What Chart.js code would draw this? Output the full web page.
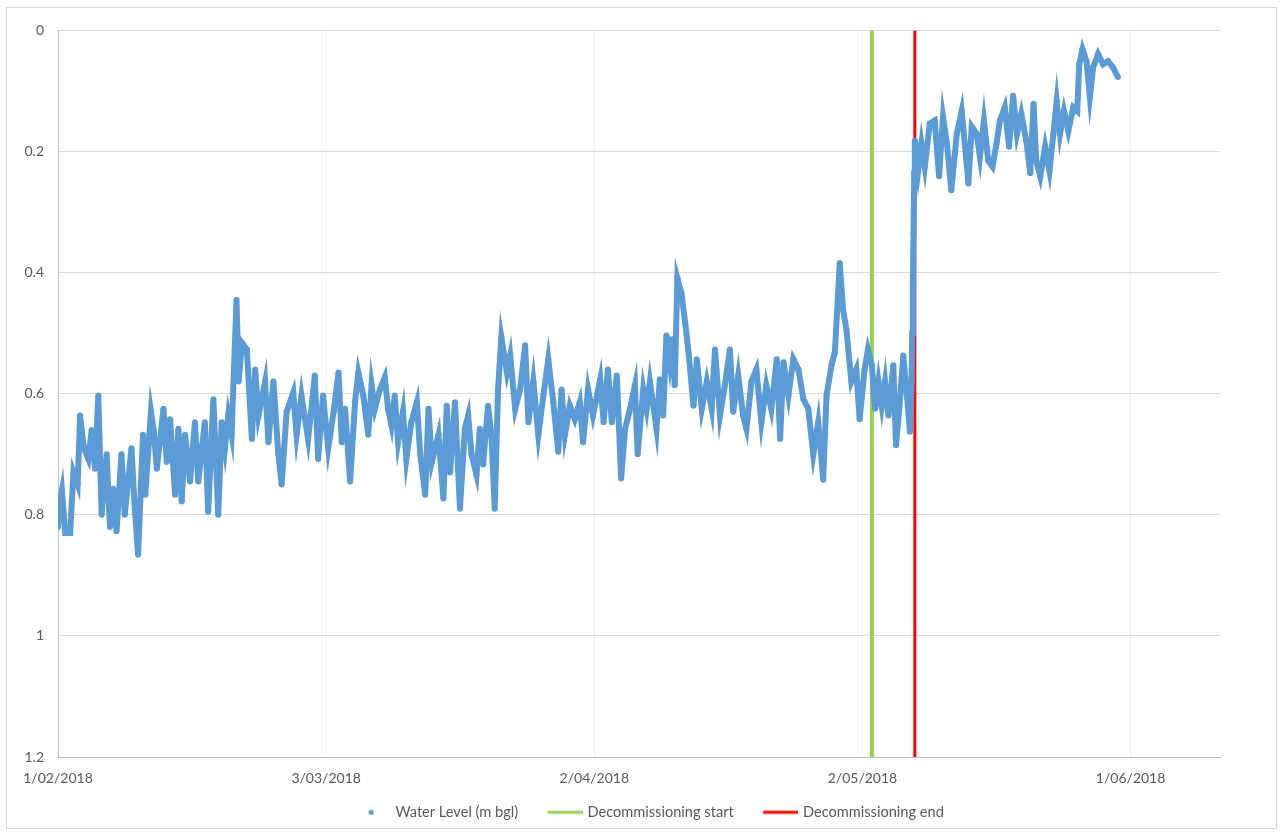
<!DOCTYPE html>
<html>
<head>
<meta charset="utf-8">
<script src="https://cdn.jsdelivr.net/npm/chart.js@4/dist/chart.umd.min.js"></script>
<style>
  body { margin: 0; background: #fff; }
  #box { position: absolute; left: 6px; top: 7px; width: 1269px; height: 820px; border: 1px solid #d9d9d9; }
</style>
</head>
<body>
<div id="box"><canvas id="levelChart" width="1269" height="820"></canvas></div>
<script>
// days counted from 1/02/2018, water level in m below ground
var days = [
  0, 0.2, 0.44, 0.8, 1.36, 1.73, 2.2, 2.47, 2.9, 3.4, 3.77, 4.14, 4.51, 4.88, 5.44, 5.81, 6.18, 6.55, 7.1, 7.47,
  8.22, 8.59, 8.96, 9.51, 9.77, 10.4, 10.7, 11.06, 11.8, 12.17, 12.54, 13.1, 13.47, 13.84, 14.21, 14.77, 15.32, 15.69, 16.43, 16.8,
  17.38, 17.93, 18.31, 18.68, 19.05, 19.42, 19.97, 20.21, 20.58, 21.13, 21.69, 22.06, 22.43, 23.17, 23.54, 24.1, 24.65, 25.02, 25.58, 26.32,
  26.69, 27.24, 27.98, 28.73, 29.1, 29.65, 30.23, 30.83, 31.38, 31.75, 32.12, 32.68, 33.23, 33.6, 34.16, 34.71, 35.08, 35.45, 36.01, 36.56,
  36.93, 37.3, 37.67, 38.05, 38.6, 38.97, 39.53, 40.15, 40.52, 41.08, 41.45, 41.82, 42.56, 43.12, 43.49, 43.86, 44.41, 44.97, 45.52, 45.89,
  46.26, 46.82, 47.19, 47.56, 48.11, 48.49, 48.86, 49.23, 49.6, 50.22, 50.59, 51.15, 51.7, 52.26, 52.63, 53.18, 53.74, 54.3, 54.85, 55.41,
  55.97, 56.34, 56.71, 57.26, 57.82, 58.37, 58.74, 59.3, 59.85, 60.66, 61.04, 61.52, 61.96, 62.52, 63.0, 63.44, 64.0, 64.55, 64.85, 65.48,
  65.85, 66.22, 66.96, 67.33, 67.7, 68.07, 68.44, 68.7, 69.0, 69.29, 69.74, 70.17, 70.54, 71.1, 71.47, 72.02, 72.58, 73.13, 73.5, 74.06,
  74.61, 75.17, 75.54, 76.1, 76.65, 77.02, 77.58, 78.13, 78.69, 79.24, 79.8, 80.42, 80.79, 81.17, 81.72, 82.27, 82.83, 83.39, 83.94, 84.5,
  85.05, 85.61, 85.98, 86.54, 86.91, 87.46, 87.83, 88.2, 88.76, 89.31, 89.68, 90.24, 90.61, 91.05, 91.42, 91.79, 92.16, 92.53, 92.9, 93.45,
  93.75, 94.12, 94.57, 94.94, 95.31, 95.49, 95.57, 95.64, 95.71, 95.79, 95.86, 96.23, 96.6, 96.97, 97.53, 98.08, 98.57, 99.01, 99.45, 99.94,
  100.55, 101.1, 101.59, 101.85, 102.22, 102.77, 103.14, 103.59, 104.07, 104.55, 105.0, 105.37, 105.92, 106.4, 106.85, 107.29, 107.77, 108.33, 108.77, 109.14,
  109.44, 109.89, 110.44, 110.92, 111.36, 111.73, 112.1, 112.55, 113.03, 113.58, 114.03, 114.25, 114.62, 115.07, 115.44, 115.81, 116.36, 116.92, 117.47, 118.03,
  118.58
];
var waterLevel = [
  0.82, 0.78, 0.76, 0.83, 0.83, 0.73, 0.75, 0.636, 0.69, 0.708, 0.66, 0.724, 0.603, 0.80, 0.70, 0.82, 0.757, 0.827, 0.70, 0.80,
  0.69, 0.79, 0.866, 0.668, 0.767, 0.63, 0.66, 0.724, 0.625, 0.713, 0.642, 0.767, 0.658, 0.778, 0.668, 0.745, 0.647, 0.745, 0.647, 0.795,
  0.609, 0.80, 0.647, 0.69, 0.636, 0.668, 0.445, 0.58, 0.516, 0.527, 0.675, 0.56, 0.636, 0.58, 0.68, 0.58, 0.70, 0.75, 0.63, 0.598,
  0.668, 0.603, 0.675, 0.57, 0.708, 0.603, 0.69, 0.63, 0.565, 0.68, 0.625, 0.745, 0.614, 0.565, 0.603, 0.668, 0.586, 0.625, 0.593, 0.573,
  0.625, 0.652, 0.603, 0.68, 0.63, 0.708, 0.647, 0.614, 0.70, 0.767, 0.625, 0.713, 0.668, 0.773, 0.62, 0.73, 0.614, 0.79, 0.658, 0.636,
  0.70, 0.734, 0.658, 0.717, 0.62, 0.668, 0.79, 0.593, 0.507, 0.565, 0.537, 0.625, 0.593, 0.52, 0.647, 0.58, 0.668, 0.603, 0.543, 0.614,
  0.696, 0.593, 0.668, 0.62, 0.642, 0.614, 0.68, 0.593, 0.636, 0.576, 0.647, 0.56, 0.647, 0.57, 0.74, 0.658, 0.625, 0.586, 0.70, 0.593,
  0.625, 0.58, 0.658, 0.576, 0.636, 0.504, 0.548, 0.51, 0.586, 0.409, 0.434, 0.483, 0.532, 0.62, 0.543, 0.625, 0.58, 0.625, 0.527, 0.636,
  0.586, 0.527, 0.63, 0.57, 0.636, 0.658, 0.58, 0.56, 0.647, 0.586, 0.625, 0.543, 0.675, 0.548, 0.603, 0.543, 0.56, 0.609, 0.625, 0.70,
  0.647, 0.742, 0.603, 0.553, 0.532, 0.384, 0.461, 0.494, 0.58, 0.56, 0.642, 0.56, 0.527, 0.553, 0.625, 0.58, 0.62, 0.58, 0.636, 0.553,
  0.685, 0.625, 0.537, 0.598, 0.663, 0.58, 0.50, 0.42, 0.335, 0.236, 0.182, 0.232, 0.187, 0.225, 0.154, 0.149, 0.241, 0.143, 0.187, 0.264,
  0.171, 0.133, 0.209, 0.253, 0.159, 0.171, 0.209, 0.149, 0.215, 0.225, 0.187, 0.149, 0.127, 0.192, 0.108, 0.171, 0.138, 0.182, 0.236, 0.121,
  0.215, 0.241, 0.192, 0.232, 0.171, 0.117, 0.171, 0.133, 0.166, 0.127, 0.133, 0.056, 0.031, 0.051, 0.11, 0.061, 0.039, 0.056, 0.051, 0.061,
  0.077
];

var decomStartDay = 91.05;
var decomEndDay = 95.86;

var xTickDays = [0, 30, 60, 90, 120];
var xTickLabels = ['1/02/2018', '3/03/2018', '2/04/2018', '2/05/2018', '1/06/2018'];
var yTickValues = [0, 0.2, 0.4, 0.6, 0.8, 1, 1.2];
var yTickLabels = ['0', '0.2', '0.4', '0.6', '0.8', '1', '1.2'];

var seriesNames = ['Water Level (m bgl)', 'Decommissioning start', 'Decommissioning end'];

var blue = '#5B9BD5';
var green = '#92D050';
var red = '#FF0000';
var grey = '#595959';

var levelPoints = [];
for (var i = 0; i < days.length; i++) {
  levelPoints.push({x: days[i], y: waterLevel[i]});
}

function nearest(list, v) {
  var best = 0;
  for (var k = 1; k < list.length; k++) {
    if (Math.abs(list[k] - v) < Math.abs(list[best] - v)) best = k;
  }
  return Math.abs(list[best] - v) < 1e-6 ? best : -1;
}

// legend markers: 54px wide canvases, drawn at the right end so they sit next to the text
function mark(colour, round) {
  var c = document.createElement('canvas');
  c.width = 54; c.height = 6;
  var g = c.getContext('2d');
  g.fillStyle = colour;
  if (round) {
    g.beginPath();
    g.arc(34.5, 3, 2.6, 0, Math.PI * 2);
    g.fill();
  } else {
    g.fillRect(19, 1.5, 35, 3);
  }
  return c;
}
var legendMarks = [mark(blue, true), mark(green, false), mark(red, false)];

const levelChart = new Chart(document.getElementById('levelChart'), {
  type: 'scatter',
  data: {
    datasets: [{
      label: seriesNames[0],
      data: levelPoints,
      showLine: true,
      borderColor: blue,
      backgroundColor: blue,
      borderWidth: 6,
      pointRadius: 3,
      pointBorderWidth: 0
    }, {
      label: seriesNames[1],
      data: [{x: decomStartDay, y: 0}, {x: decomStartDay, y: 1.2}],
      showLine: true,
      borderColor: green,
      backgroundColor: green,
      borderWidth: 4,
      pointRadius: 0
    }, {
      label: seriesNames[2],
      data: [{x: decomEndDay, y: 0}, {x: decomEndDay, y: 1.2}],
      showLine: true,
      borderColor: red,
      backgroundColor: red,
      borderWidth: 3,
      pointRadius: 0
    }]
  },
  options: {
    responsive: false,
    animation: false,
    layout: { padding: { top: 18, left: 0, right: 0, bottom: 0 } },
    plugins: {
      tooltip: { enabled: false },
      legend: {
        position: 'bottom',
        maxHeight: 36,
        labels: {
          usePointStyle: true,
          pointStyleWidth: 49,
          boxHeight: 14.6,
          padding: 13,
          color: grey,
          font: { family: 'Lato', size: 14.6 },
          generateLabels: function(chart) {
            var items = Chart.defaults.plugins.legend.labels.generateLabels(chart);
            items.forEach(function(it, k) { it.pointStyle = legendMarks[k]; });
            return items;
          }
        }
      }
    },
    scales: {
      x: {
        type: 'linear',
        min: 0,
        max: 130,
        afterFit: function(s) { s.height = 35; },
        border: { color: '#bfbfbf' },
        grid: { color: '#f0f0f0', drawTicks: false },
        ticks: {
          stepSize: 30,
          includeBounds: false,
          padding: 13,
          color: grey,
          font: { family: 'Lato', size: 14 },
          callback: function(value) {
            var k = nearest(xTickDays, value);
            return k < 0 ? '' : xTickLabels[k];
          }
        }
      },
      y: {
        reverse: true,
        min: 0,
        max: 1.2,
        afterFit: function(s) { s.width = 51; },
        border: { color: '#bfbfbf' },
        grid: { color: '#d9d9d9', drawTicks: false },
        ticks: {
          stepSize: 0.2,
          padding: 14,
          color: grey,
          font: { family: 'Lato', size: 14 },
          callback: function(value) {
            var k = nearest(yTickValues, value);
            return k < 0 ? '' : yTickLabels[k];
          }
        }
      },
      yRight: {
        position: 'right',
        afterFit: function(s) { s.width = 56; },
        border: { display: false },
        grid: { display: false },
        ticks: { display: false }
      }
    }
  }
});
</script>
</body>
</html>
